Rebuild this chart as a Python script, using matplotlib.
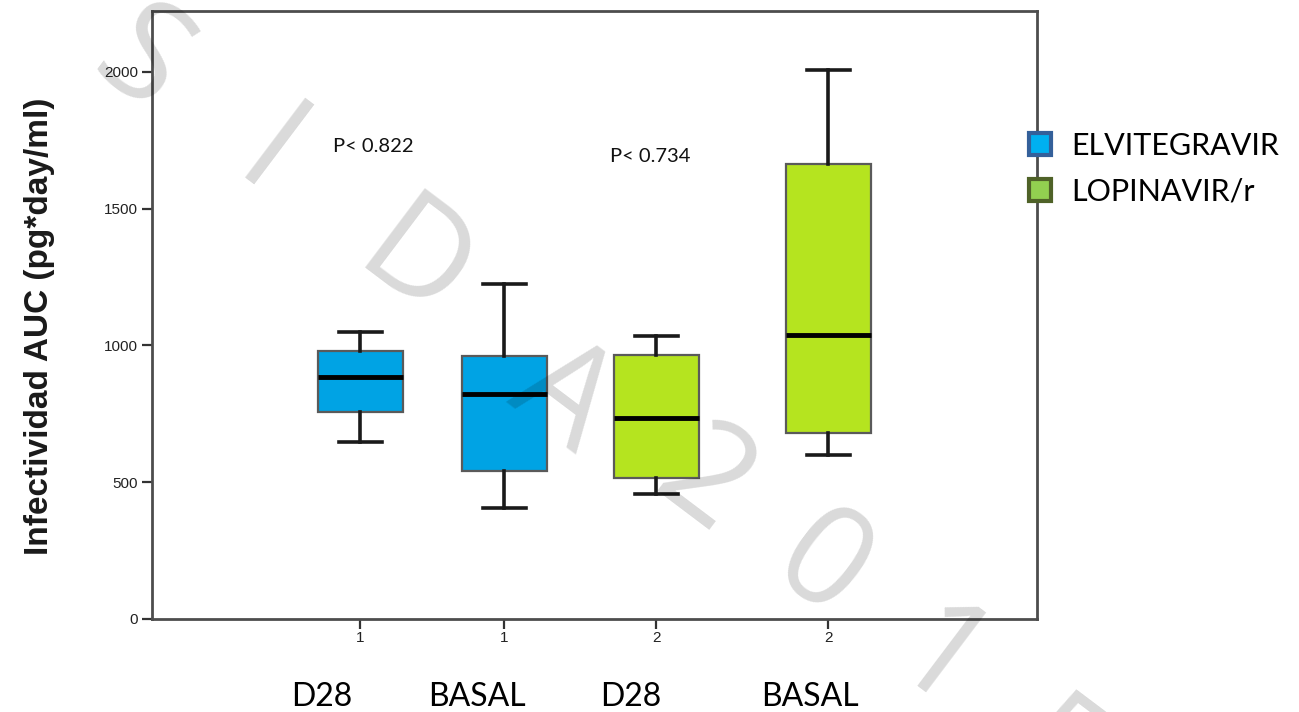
import matplotlib
matplotlib.use("Agg")
import matplotlib.pyplot as plt
from matplotlib.patches import Patch

# ---- data ----
group_labels = ["D28", "BASAL", "D28", "BASAL"]
tick_labels = ["1", "1", "2", "2"]
whisker_low = [648, 405, 457, 600]
q1 = [758, 541, 517, 679]
median = [884, 822, 736, 1038]
q3 = [981, 962, 965, 1664]
whisker_high = [1050, 1225, 1036, 2007]
series = ["ELVITEGRAVIR", "ELVITEGRAVIR", "LOPINAVIR/r", "LOPINAVIR/r"]
legend_labels = ["ELVITEGRAVIR", "LOPINAVIR/r"]
p_values = ["P< 0.822", "P< 0.734"]
y_ticks = [0, 500, 1000, 1500, 2000]
watermark = ["S", "I", "D", "A", "2", "0", "1", "5"]

# ---- styles / layout ----
box_fill = {"ELVITEGRAVIR": "#00A3E4", "LOPINAVIR/r": "#B5E41F"}
legend_fill = ["#00B0F0", "#92D050"]
legend_edge = ["#34609A", "#4F6228"]
positions = [208, 352, 504, 676]
W, H = 1299, 712

fig = plt.figure(figsize=(W / 100, H / 100), dpi=100)
ax = fig.add_axes([152 / W, 1 - 619 / H, (1037 - 152) / W, (619 - 11) / H])

stats = []
for i in range(len(median)):
    stats.append(dict(whislo=whisker_low[i], q1=q1[i], med=median[i],
                      q3=q3[i], whishi=whisker_high[i], fliers=[]))

bp = ax.bxp(stats, positions=positions, widths=85, patch_artist=True,
            showfliers=False, capwidths=43,
            boxprops=dict(edgecolor="#5a5a5a", linewidth=1.6),
            whiskerprops=dict(color="#1a1a1a", linewidth=2.6),
            capprops=dict(color="#1a1a1a", linewidth=2.6),
            medianprops=dict(color="black", linewidth=3.5))
for patch, s in zip(bp["boxes"], series):
    patch.set_facecolor(box_fill[s])

ax.set_xlim(0, 885)
ax.set_ylim(0, 2223)
ax.set_xticks(positions)
ax.set_xticklabels(tick_labels)
ax.set_yticks(y_ticks)
ax.set_yticklabels([str(v) for v in y_ticks])
for sp in ax.spines.values():
    sp.set_color("#4d4d4d")
    sp.set_linewidth(2)
ax.tick_params(direction="out", length=7, width=1.6, color="#333333",
               labelsize=11, pad=3)
for lab in ax.get_xticklabels() + ax.get_yticklabels():
    lab.set_family("Liberation Sans")
    lab.set_color("#222222")
ax.tick_params(axis="x", pad=2)

# p-values
fig.text(373 / W, 1 - 146 / H, p_values[0], ha="center", va="center",
         family="Lato", fontsize=14.5, color="#111111")
fig.text(650 / W, 1 - 157 / H, p_values[1], ha="center", va="center",
         family="Lato", fontsize=14.5, color="#111111")

# y label
fig.text(40 / W, 1 - 326 / H, "Infectividad AUC (pg*day/ml)", rotation=90,
         ha="center", va="center", family="Liberation Sans",
         fontweight="bold", fontsize=24, color="#1a1a1a")

# group labels below axis
for lab, cx in zip(group_labels, [322, 477, 631, 810]):
    fig.text(cx / W, 1 - 706 / H, lab, ha="center", va="baseline",
             family="Lato", fontsize=23, color="black")

# legend
handles = [Patch(facecolor=f, edgecolor=e, linewidth=3)
           for f, e in zip(legend_fill, legend_edge)]
fig.legend(handles, legend_labels, loc="upper left",
           bbox_to_anchor=(1029 / W, 1 - 132 / H), frameon=False,
           prop=dict(family="Lato", size=22), handlelength=0.72,
           handleheight=0.72, handletextpad=0.65, labelspacing=0.57,
           borderaxespad=0, borderpad=0)

# watermark
wm_centers = [(140, 65), (268, 160), (413, 268), (562, 400), (703, 485),
              (820, 570), (937, 665), (1055, 760)]
for ch, (cx, cy) in zip(watermark, wm_centers):
    fig.text(cx / W, 1 - cy / H, ch, ha="center", va="center",
             rotation=-37, rotation_mode="anchor", family="Open Sans",
             fontsize=100, color="black", alpha=0.15)

fig.savefig("out.png", dpi=100)
